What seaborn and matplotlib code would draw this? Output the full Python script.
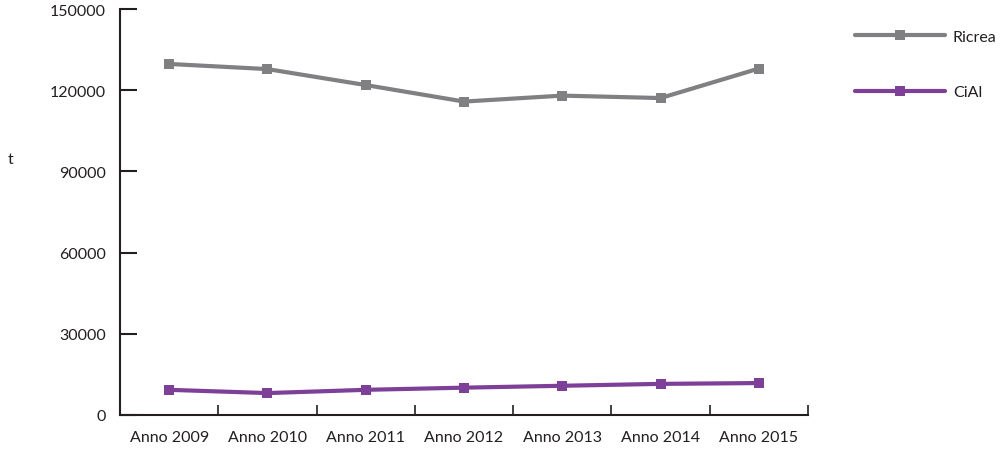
import pandas as pd
import matplotlib
matplotlib.use('Agg')
import matplotlib.pyplot as plt
import seaborn as sns
from matplotlib.ticker import FixedLocator

# Dati
anni = ['Anno 2009', 'Anno 2010', 'Anno 2011', 'Anno 2012', 'Anno 2013', 'Anno 2014', 'Anno 2015']
ricrea = [129700, 127800, 121900, 115800, 118000, 117100, 128000]
cial = [9300, 8100, 9300, 10100, 10800, 11500, 11800]
serie = ['Ricrea', 'CiAl']
colori = ['#808083', '#7d3f98']

dati = pd.DataFrame({
    'anno': anni * 2,
    'valore': ricrea + cial,
    'consorzio': ['Ricrea'] * len(anni) + ['CiAl'] * len(anni),
})

sns.set_style('white')
plt.rcParams['font.family'] = ['Lato', 'DejaVu Sans']

fig = plt.figure(figsize=(10.05, 4.52), dpi=100)
ax = fig.add_axes([120 / 1005, 36 / 452, 688 / 1005, 406 / 452])

sns.lineplot(data=dati, x='anno', y='valore', hue='consorzio', hue_order=serie,
             palette=colori, style='consorzio', markers=['s', 's'], dashes=False,
             linewidth=3, markersize=7, markeredgewidth=0, ax=ax)

# Assi
ax.set_ylim(0, 150000)
ax.set_yticks(range(0, 150001, 30000))
ax.set_xlim(-0.5, len(anni) - 0.5)
ax.set_xticks(range(len(anni)))
ax.set_xticklabels(anni)
ax.xaxis.set_minor_locator(FixedLocator([i - 0.5 for i in range(len(anni) + 1)]))
ax.tick_params(axis='y', left=True, direction='in', length=12, width=1.5, pad=10,
               labelsize=11.5, colors='#231f20')
ax.tick_params(axis='x', which='major', length=0, pad=11, labelsize=11.5, colors='#231f20')
ax.tick_params(axis='x', which='minor', direction='in', length=7, width=1.2, color='#231f20', bottom=True)
for lato in ['top', 'right']:
    ax.spines[lato].set_visible(False)
for lato in ['left', 'bottom']:
    ax.spines[lato].set_linewidth(1.5)
    ax.spines[lato].set_color('#231f20')
ax.set_xlabel('')
ax.set_ylabel('')
fig.text(8 / 1005, 1 - 160 / 452, 't', fontsize=11.5, color='#231f20', ha='left', va='center')

# Legenda
ax.legend_.remove()
maniglie, etichette = ax.get_legend_handles_labels()
fig.legend(maniglie, etichette, loc='upper left', bbox_to_anchor=(841 / 1005, 1 - 16 / 452),
           frameon=False, handlelength=5.6, labelspacing=2.6, handletextpad=0.5,
           fontsize=11.5, labelcolor='#231f20')

fig.savefig('out.png', dpi=100)
